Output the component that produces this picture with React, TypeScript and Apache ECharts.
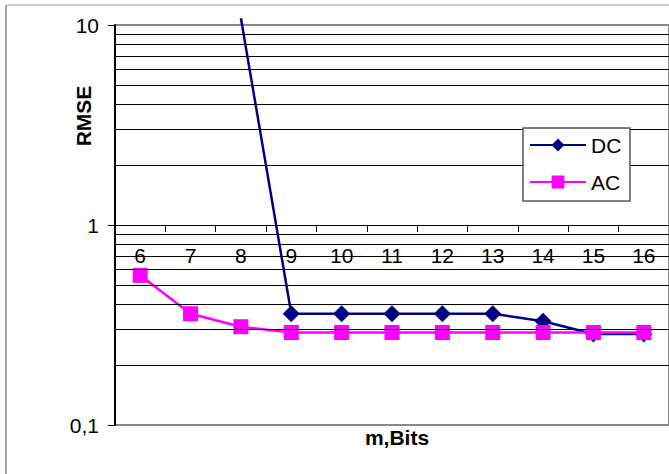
import React, { useEffect, useRef } from "react";
import * as echarts from "echarts";

const categories = ["6", "7", "8", "9", "10", "11", "12", "13", "14", "15", "16"];
const dcValues: (number | null)[] = [null, null, 10.8, 0.36, 0.36, 0.36, 0.36, 0.36, 0.33, 0.285, 0.285];
const acValues = [0.56, 0.36, 0.31, 0.29, 0.29, 0.29, 0.29, 0.29, 0.29, 0.29, 0.29];
const minorGridValues = [0.2, 0.3, 0.4, 0.5, 0.6, 0.7, 0.8, 0.9, 2, 3, 4, 5, 6, 7, 8, 9];
const yTickLabels: Record<string, string> = { "0.1": "0,1", "1": "1", "10": "10" };

const FONT = "'Liberation Sans', Arial, sans-serif";

export default function App() {
  const ref = useRef<HTMLDivElement>(null);
  useEffect(() => {
    if (!ref.current) return;
    const chart = echarts.init(ref.current, null, { renderer: "svg" });
    const dcData = dcValues.map((v) =>
      v !== null && v > 10 ? { value: v, symbol: "none" } : v
    );
    chart.setOption({
      animation: false,
      backgroundColor: "#fff",
      textStyle: { fontFamily: FONT },
      grid: {
        left: 115,
        top: 25,
        width: 560,
        height: 400,
        show: true,
        borderColor: "#888",
        borderWidth: 2,
        backgroundColor: "transparent",
      },
      xAxis: {
        type: "category",
        data: categories,
        boundaryGap: true,
        position: "bottom",
        offset: -200,
        axisLine: { lineStyle: { color: "#000", width: 1 } },
        axisTick: { show: true, length: 7, lineStyle: { color: "#000", width: 1 } },
        axisLabel: { color: "#000", fontSize: 21, fontFamily: FONT, margin: 20 },
        splitLine: { show: false },
      },
      yAxis: {
        type: "log",
        logBase: 10,
        min: 0.1,
        max: 10,
        axisLine: { show: true, lineStyle: { color: "#000", width: 2 } },
        axisTick: { show: true, length: 7, lineStyle: { color: "#000", width: 1 } },
        axisLabel: {
          color: "#000",
          fontSize: 21,
          fontFamily: FONT,
          margin: 16,
          formatter: (v: number) => {
            const k = String(Math.round(v * 10) / 10);
            return yTickLabels[k] ?? "";
          },
        },
        splitLine: { show: false },
      },
      legend: {
        data: ["DC", "AC"],
        orient: "vertical",
        left: 529,
        top: 134,
        padding: 0,
        itemWidth: 56,
        itemHeight: 16,
        itemGap: 15,
        z: 20,
        textStyle: { color: "#000", fontSize: 21, fontFamily: FONT, lineHeight: 22 },
      },
      graphic: [
        {
          type: "line",
          z: -10,
          shape: { x1: 6, y1: 5, x2: 6, y2: 480 },
          style: { stroke: "#888", lineWidth: 1.5 },
          silent: true,
        },
        {
          type: "line",
          z: -10,
          shape: { x1: 6, y1: 5, x2: 680, y2: 5 },
          style: { stroke: "#bbb", lineWidth: 1.5 },
          silent: true,
        },
        {
          type: "rect",
          z: 10,
          shape: { x: 523, y: 128, width: 107, height: 73 },
          style: { fill: "#fff", stroke: "#555", lineWidth: 1.5 },
          silent: true,
        },
        {
          type: "text",
          x: 83,
          y: 116,
          rotation: Math.PI / 2,
          style: {
            text: "RMSE",
            font: `bold 21px ${FONT}`,
            fill: "#000",
            textAlign: "center",
            textVerticalAlign: "middle",
          },
        },
        {
          type: "text",
          x: 397,
          y: 437,
          style: {
            text: "m,Bits",
            font: `bold 21px ${FONT}`,
            fill: "#000",
            textAlign: "center",
            textVerticalAlign: "middle",
          },
        },
      ],
      series: [
        {
          name: "grid",
          type: "line",
          z: 1,
          data: categories.map(() => null),
          symbol: "none",
          silent: true,
          markLine: {
            silent: true,
            symbol: "none",
            label: { show: false },
            lineStyle: { color: "#000", width: 1, type: "solid" },
            data: minorGridValues.map((v) => ({ yAxis: v })),
          },
        },
        {
          name: "DC",
          type: "line",
          z: 3,
          data: dcData,
          clip: false,
          symbol: "diamond",
          symbolSize: 17,
          connectNulls: false,
          itemStyle: { color: "#000080" },
          lineStyle: { color: "#000080", width: 2.5 },
        },
        {
          name: "AC",
          type: "line",
          z: 4,
          data: acValues,
          clip: false,
          symbol: "rect",
          symbolSize: 15,
          itemStyle: { color: "#FF00FF" },
          lineStyle: { color: "#FF00FF", width: 2.5 },
        },
      ],
    });
    return () => chart.dispose();
  }, []);
  return (
    <div
      ref={ref}
      style={{ position: "fixed", left: 0, top: 0, width: 669, height: 474, background: "#fff" }}
    />
  );
}
